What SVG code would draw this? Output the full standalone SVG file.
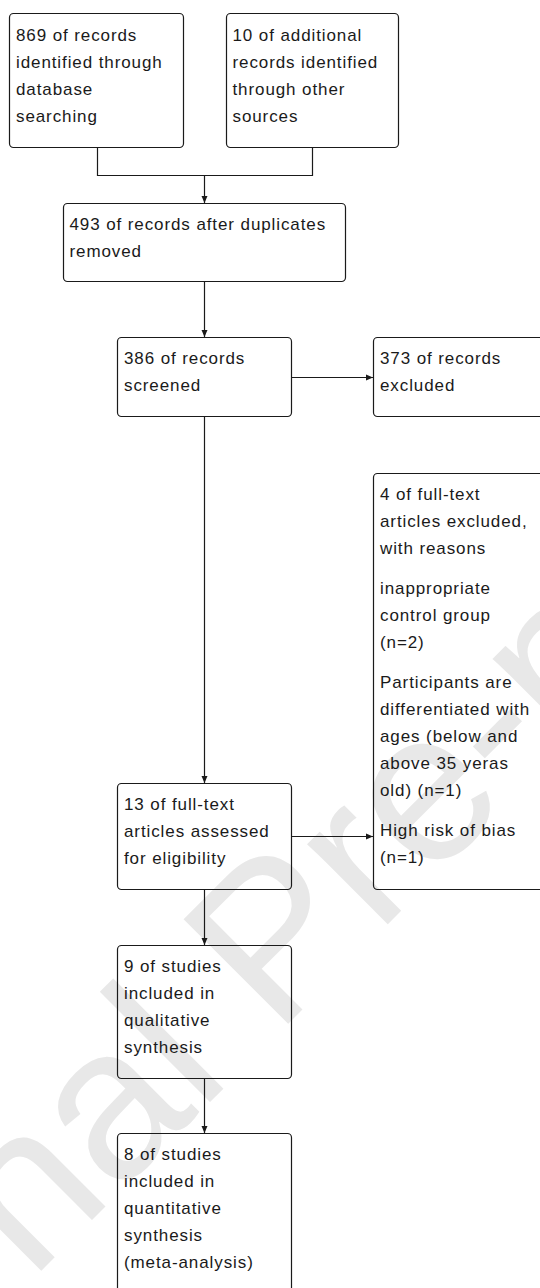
<svg xmlns="http://www.w3.org/2000/svg" width="540" height="1288" viewBox="0 0 540 1288">
<style>
.box{fill:none;stroke:#1a1a1a;stroke-width:1.2}
.t{font-family:"Liberation Sans",Arial,sans-serif;font-size:17px;letter-spacing:0.9px;fill:#1a1a1a}
.c{fill:none;stroke:#1a1a1a;stroke-width:1.2}
.wm{font-family:"Liberation Sans",Arial,sans-serif;font-size:215px;fill:#e8e8e8}
</style>
<defs>
<marker id="ah" markerUnits="userSpaceOnUse" markerWidth="8" markerHeight="8" refX="7" refY="3.5" orient="auto">
<path d="M0,0.5 L7,3.5 L0,6.5 z" fill="#1a1a1a"/>
</marker>
</defs>
<rect width="540" height="1288" fill="#fff"/>
<text class="wm" transform="translate(-265,1577) rotate(-45)">Journal Pre-proof</text>
<g id="n1"><rect class="box" x="9.5" y="13.5" width="174" height="134" rx="4"/>
<text class="t" x="16" y="41">869 of records</text><text class="t" x="16" y="68">identified through</text><text class="t" x="16" y="95">database</text><text class="t" x="16" y="122">searching</text></g>
<g id="n2"><rect class="box" x="226.5" y="13.5" width="172" height="134" rx="4"/>
<text class="t" x="232.5" y="41">10 of additional</text><text class="t" x="232.5" y="68">records identified</text><text class="t" x="232.5" y="95">through other</text><text class="t" x="232.5" y="122">sources</text></g>
<g id="n3"><rect class="box" x="63.5" y="203.5" width="282" height="78" rx="4"/>
<text class="t" x="69.5" y="230">493 of records after duplicates</text><text class="t" x="69.5" y="257">removed</text></g>
<g id="n4"><rect class="box" x="117.5" y="337.5" width="174" height="79" rx="4"/>
<text class="t" x="124" y="364">386 of records</text><text class="t" x="124" y="391">screened</text></g>
<g id="n5"><rect class="box" x="373.5" y="337.5" width="180" height="79" rx="4"/>
<text class="t" x="380" y="364">373 of records</text><text class="t" x="380" y="391">excluded</text></g>
<g id="n6"><rect class="box" x="373.5" y="473.5" width="180" height="416" rx="4"/>
<text class="t" x="380" y="500">4 of full-text</text><text class="t" x="380" y="527">articles excluded,</text><text class="t" x="380" y="554">with reasons</text>
<text class="t" x="380" y="594">inappropriate</text><text class="t" x="380" y="621">control group</text><text class="t" x="380" y="648">(n=2)</text>
<text class="t" x="380" y="688">Participants are</text><text class="t" x="380" y="715">differentiated with</text><text class="t" x="380" y="742">ages (below and</text><text class="t" x="380" y="769">above 35 yeras</text><text class="t" x="380" y="796">old) (n=1)</text>
<text class="t" x="380" y="836">High risk of bias</text><text class="t" x="380" y="863">(n=1)</text></g>
<g id="n7"><rect class="box" x="117.5" y="783.5" width="174" height="106" rx="4"/>
<text class="t" x="124" y="810">13 of full-text</text><text class="t" x="124" y="837">articles assessed</text><text class="t" x="124" y="864">for eligibility</text></g>
<g id="n8"><rect class="box" x="117.5" y="945.5" width="174" height="133" rx="4"/>
<text class="t" x="124" y="972">9 of studies</text><text class="t" x="124" y="999">included in</text><text class="t" x="124" y="1026">qualitative</text><text class="t" x="124" y="1053">synthesis</text></g>
<g id="n9"><rect class="box" x="117.5" y="1133.5" width="174" height="170" rx="4"/>
<text class="t" x="124" y="1160">8 of studies</text><text class="t" x="124" y="1187">included in</text><text class="t" x="124" y="1214">quantitative</text><text class="t" x="124" y="1241">synthesis</text><text class="t" x="124" y="1268">(meta-analysis)</text></g>
<g id="connectors">
<path class="c" d="M97.5,147.5 V175.5 H312.5 V147.5"/>
<path class="c" d="M204.5,175.5 V203" marker-end="url(#ah)"/>
<path class="c" d="M204.5,281.5 V337" marker-end="url(#ah)"/>
<path class="c" d="M291.5,377.5 H373" marker-end="url(#ah)"/>
<path class="c" d="M204.5,416.5 V783" marker-end="url(#ah)"/>
<path class="c" d="M291.5,836.5 H373" marker-end="url(#ah)"/>
<path class="c" d="M204.5,889.5 V945" marker-end="url(#ah)"/>
<path class="c" d="M204.5,1078.5 V1133" marker-end="url(#ah)"/>
</g>
</svg>
